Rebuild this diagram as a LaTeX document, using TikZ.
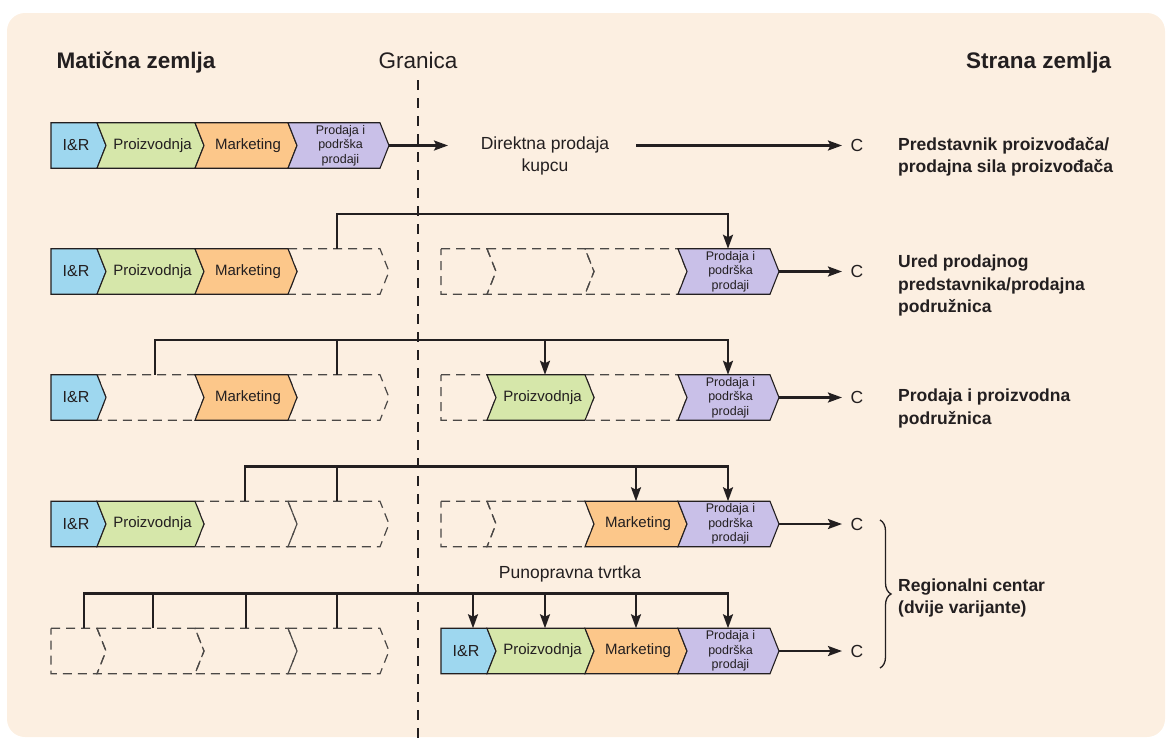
\documentclass[tikz,border=0pt]{standalone}
\usepackage{fontspec}
\setmainfont{Liberation Sans}
\usetikzlibrary{arrows.meta,decorations.pathreplacing}
\definecolor{bgc}{RGB}{252,239,225}
\definecolor{cir}{RGB}{158,215,239}
\definecolor{cpro}{RGB}{214,231,170}
\definecolor{cmar}{RGB}{252,199,138}
\definecolor{csal}{RGB}{201,192,232}
\definecolor{ink}{RGB}{35,31,32}
\definecolor{dsh}{RGB}{75,72,70}
\newcommand{\segshape}[5]{%
  \path[#1] ({#2},{#4-22.75}) -- ({#3},{#4-22.75}) -- ({#3+9},{#4}) -- ({#3},{#4+22.75}) -- ({#2},{#4+22.75}) -- ({#2+#5*9},{#4}) -- cycle;}
\newcommand{\fullseg}[8]{%
  \segshape{solidseg,fill=#2}{#3}{#4}{#5}{#6}%
  \node[#7] (#1) at ({(#3+#4)/2+4.5*#6+2},{#5}) {#8};}
\newcommand{\emptyseg}[4]{\segshape{dashseg}{#1}{#2}{#3}{#4}}
\begin{document}
\begin{tikzpicture}[x=1pt,y=-1pt,
  solidseg/.style={draw=ink, line width=1.1pt, line join=miter},
  dashseg/.style={draw=dsh, line width=1.2pt, dash pattern=on 9pt off 6pt},
  seg/.style={font=\fontsize{15}{17}\selectfont, text=ink, inner sep=0pt},
  segir/.style={font=\fontsize{16}{18}\selectfont, text=ink, inner sep=0pt},
  segsm/.style={font=\fontsize{12.5}{14.5}\selectfont, text=ink, align=center, inner sep=0pt},
  conn/.style={draw=ink, line width=2.2pt, line join=miter},
  arr/.style={conn, -{Stealth[length=14pt,width=10pt,inset=2.5pt]}},
  head/.style={font=\fontsize{22.5}{26}\selectfont\bfseries, text=ink, inner sep=0pt},
  headr/.style={font=\fontsize{22.5}{26}\selectfont, text=ink, inner sep=0pt},
  side/.style={font=\fontsize{17.5}{22.5}\selectfont\bfseries, text=ink, align=left, inner sep=0pt, anchor=west},
  reg/.style={font=\fontsize{17.5}{22}\selectfont, text=ink, inner sep=0pt},
  border/.style={draw=ink, line width=2.3pt, dash pattern=on 10pt off 8pt},
  cend/.style={shorten >=8.5pt}
]
\useasboundingbox (0,0) rectangle (1169,740);
\fill[bgc, rounded corners=18pt] (7,13) rectangle (1165,737);

% ---------- dashed (missing) segments ----------
% row 2
\emptyseg{288}{380}{271.5}{1}
\emptyseg{441}{487}{271.5}{0}
\emptyseg{487}{585}{271.5}{1}
\emptyseg{585}{678}{271.5}{1}
% row 3
\emptyseg{97}{195}{397.5}{1}
\emptyseg{288}{380}{397.5}{1}
\emptyseg{441}{487}{397.5}{0}
\emptyseg{585}{678}{397.5}{1}
% row 4
\emptyseg{195}{288}{524}{1}
\emptyseg{288}{380}{524}{1}
\emptyseg{441}{487}{524}{0}
\emptyseg{487}{585}{524}{1}
% row 5
\emptyseg{51}{97}{651}{0}
\emptyseg{97}{195}{651}{1}
\emptyseg{195}{288}{651}{1}
\emptyseg{288}{380}{651}{1}

% ---------- filled segments ----------
% row 1
\fullseg{r1a}{cir}{51}{97}{145.5}{0}{segir}{I\&R}
\fullseg{r1b}{cpro}{97}{195}{145.5}{1}{seg}{Proizvodnja}
\fullseg{r1c}{cmar}{195}{288}{145.5}{1}{seg}{Marketing}
\fullseg{r1d}{csal}{288}{380}{145.5}{1}{segsm}{Prodaja i\\podrška\\prodaji}
% row 2
\fullseg{r2a}{cir}{51}{97}{271.5}{0}{segir}{I\&R}
\fullseg{r2b}{cpro}{97}{195}{271.5}{1}{seg}{Proizvodnja}
\fullseg{r2c}{cmar}{195}{288}{271.5}{1}{seg}{Marketing}
\fullseg{r2d}{csal}{678}{770}{271.5}{1}{segsm}{Prodaja i\\podrška\\prodaji}
% row 3
\fullseg{r3a}{cir}{51}{97}{397.5}{0}{segir}{I\&R}
\fullseg{r3c}{cmar}{195}{288}{397.5}{1}{seg}{Marketing}
\fullseg{r3b}{cpro}{487}{585}{397.5}{1}{seg}{Proizvodnja}
\fullseg{r3d}{csal}{678}{770}{397.5}{1}{segsm}{Prodaja i\\podrška\\prodaji}
% row 4
\fullseg{r4a}{cir}{51}{97}{524}{0}{segir}{I\&R}
\fullseg{r4b}{cpro}{97}{195}{524}{1}{seg}{Proizvodnja}
\fullseg{r4c}{cmar}{585}{678}{524}{1}{seg}{Marketing}
\fullseg{r4d}{csal}{678}{770}{524}{1}{segsm}{Prodaja i\\podrška\\prodaji}
% row 5
\fullseg{r5a}{cir}{441}{487}{651}{0}{segir}{I\&R}
\fullseg{r5b}{cpro}{487}{585}{651}{1}{seg}{Proizvodnja}
\fullseg{r5c}{cmar}{585}{678}{651}{1}{seg}{Marketing}
\fullseg{r5d}{csal}{678}{770}{651}{1}{segsm}{Prodaja i\\podrška\\prodaji}

% ---------- texts ----------
\node[head, anchor=base west] (hm) at (56.5,68) {Matična zemlja};
\node[headr, anchor=base] (hg) at (418,68) {Granica};
\node[head, anchor=base west] (hs) at (966,68) {Strana zemlja};

\node[reg, align=center] (dp) at (545,156.4) {Direktna prodaja\\kupcu};
\node[reg] (pt) at (570,574) {Punopravna tvrtka};

\node[reg] (c1) at (857,145.5) {C};
\node[reg] (c2) at (857,271.5) {C};
\node[reg] (c3) at (857,397.5) {C};
\node[reg] (c4) at (857,524) {C};
\node[reg] (c5) at (857,651) {C};

\node[side] (l1) at (898,156.7) {Predstavnik proizvođača/\\prodajna sila proizvođača};
\node[side] (l2) at (898,285.5) {Ured prodajnog\\predstavnika/prodajna\\podružnica};
\node[side] (l3) at (898,408.7) {Prodaja i proizvodna\\podružnica};
\node[side] (l4) at (898,598) {Regionalni centar\\(dvije varijante)};

% ---------- coordinates ----------
\coordinate (r1tip) at (389,145.5);
\coordinate (r1end) at (448,145.5);
\coordinate (dpout) at (636,145.5);
\coordinate (r2tip) at (779,271.5);
\coordinate (r3tip) at (779,397.5);
\coordinate (r4tip) at (779,524);
\coordinate (r5tip) at (779,651);

\coordinate (b2) at (0,214);
\coordinate (b3) at (0,340);
\coordinate (b4) at (0,466.5);
\coordinate (b5) at (0,593.5);

\coordinate (r2s1) at (337,248.75);
\coordinate (r2t1) at (728,248.75);

\coordinate (r3s1) at (155,374.75);
\coordinate (r3s2) at (337,374.75);
\coordinate (r3t1) at (545,374.75);
\coordinate (r3t2) at (728,374.75);

\coordinate (r4s1) at (245,501.25);
\coordinate (r4s2) at (337,501.25);
\coordinate (r4t1) at (636,501.25);
\coordinate (r4t2) at (728,501.25);

\coordinate (r5s1) at (84,628.25);
\coordinate (r5s2) at (153,628.25);
\coordinate (r5s3) at (246,628.25);
\coordinate (r5s4) at (337,628.25);
\coordinate (r5t1) at (473,628.25);
\coordinate (r5t2) at (545,628.25);
\coordinate (r5t3) at (636,628.25);
\coordinate (r5t4) at (728,628.25);

\coordinate (gtop) at (418,80);
\coordinate (gbot) at (418,740);
\coordinate (br1) at (880,520);
\coordinate (br2) at (880,668);

% ---------- connectors ----------
\draw[arr] (r1tip) -- (r1end);
\draw[arr, cend] (dpout) -- (c1.west);
\draw[arr, cend] (r2tip) -- (c2.west);
\draw[arr, cend] (r3tip) -- (c3.west);
\draw[arr, cend] (r4tip) -- (c4.west);
\draw[arr, cend] (r5tip) -- (c5.west);

\draw[arr] (r2s1) -- (r2s1 |- b2) -| (r2t1);

\draw[arr] (r3s1) -- (r3s1 |- b3) -| (r3t2);
\draw[conn] (r3s2) -- (r3s2 |- b3);
\draw[arr] (r3t1 |- b3) -- (r3t1);

\draw[arr] (r4s1) -- (r4s1 |- b4) -| (r4t2);
\draw[conn] (r4s2) -- (r4s2 |- b4);
\draw[arr] (r4t1 |- b4) -- (r4t1);

\draw[arr] (r5s1) -- (r5s1 |- b5) -| (r5t4);
\draw[conn] (r5s2) -- (r5s2 |- b5);
\draw[conn] (r5s3) -- (r5s3 |- b5);
\draw[conn] (r5s4) -- (r5s4 |- b5);
\draw[arr] (r5t1 |- b5) -- (r5t1);
\draw[arr] (r5t2 |- b5) -- (r5t2);
\draw[arr] (r5t3 |- b5) -- (r5t3);

\draw[border] (gtop) -- (gbot);

\draw[draw=ink, line width=1.3pt, decorate, decoration={brace, amplitude=11pt}] (br1) -- (br2);
\end{tikzpicture}
\end{document}
